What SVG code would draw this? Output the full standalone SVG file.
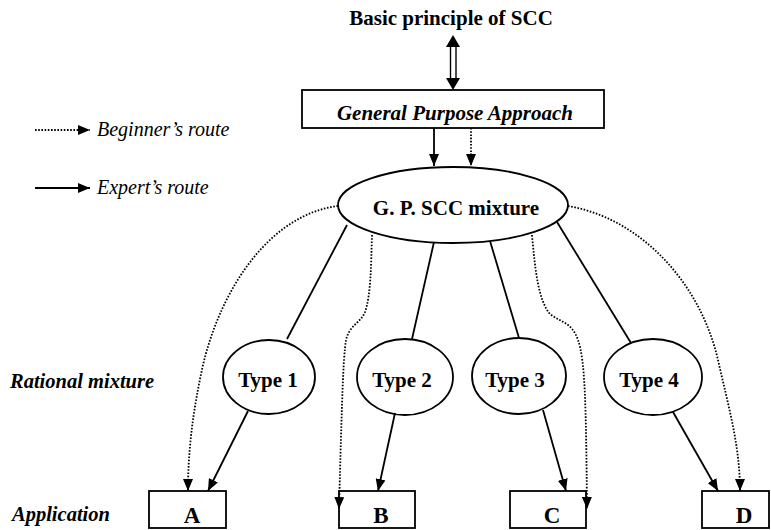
<svg xmlns="http://www.w3.org/2000/svg" width="771" height="530" viewBox="0 0 771 530">
  <style>
    .bg { fill: #ffffff; }
    .shape { fill: #ffffff; stroke: #000000; stroke-width: 1.8; }
    .solid { fill: none; stroke: #000000; stroke-width: 1.8; }
    .dotted { fill: none; stroke: #000000; stroke-width: 1.8; stroke-dasharray: 1.6 1.6; }
    .t { font-family: "Liberation Serif", "Times New Roman", serif; fill: #000000; }
    .b { font-weight: bold; }
    .i { font-style: italic; }
  </style>
  <defs>
    <marker id="head" viewBox="0 0 12 10" refX="12" refY="5" markerWidth="12" markerHeight="10" markerUnits="userSpaceOnUse" orient="auto">
      <path d="M0,0 L12,5 L0,10 Z" fill="#000000"/>
    </marker>
  </defs>

  <rect class="bg" x="0" y="0" width="771" height="530"/>

  <!-- title and double-headed link to the approach box -->
  <g id="title">
    <text class="t b" x="451" y="25" font-size="21" text-anchor="middle">Basic principle of SCC</text>
  </g>
  <g id="double-arrow">
    <line x1="450.5" y1="46" x2="450.5" y2="79" stroke="#000" stroke-width="1.4"/>
    <line x1="456" y1="46" x2="456" y2="79" stroke="#000" stroke-width="1.4"/>
    <path d="M453,35 L460,47 L446,47 Z" fill="#000"/>
    <path d="M453,90 L460,78 L446,78 Z" fill="#000"/>
  </g>

  <!-- legend -->
  <g id="legend">
    <line class="dotted" x1="35" y1="130" x2="90" y2="130" marker-end="url(#head)"/>
    <text class="t i" x="97" y="136" font-size="20">Beginner’s route</text>
    <line class="solid" x1="35" y1="188" x2="90" y2="188" marker-end="url(#head)"/>
    <text class="t i" x="97" y="194" font-size="20">Expert’s route</text>
  </g>

  <!-- row labels -->
  <g id="row-labels">
    <text class="t b i" x="10" y="388" font-size="20.5">Rational mixture</text>
    <text class="t b i" x="12" y="521" font-size="20.5">Application</text>
  </g>

  <!-- nodes -->
  <g id="gpa">
    <rect class="shape" x="302" y="90" width="302" height="38"/>
    <text class="t b i" x="455" y="120" font-size="21" text-anchor="middle">General Purpose Approach</text>
  </g>
  <g id="gp-mixture">
    <ellipse class="shape" cx="453" cy="205" rx="115" ry="38"/>
    <text class="t b" x="456" y="215" font-size="21" text-anchor="middle">G. P. SCC mixture</text>
  </g>
  <g id="type1">
    <ellipse class="shape" cx="269" cy="377" rx="46" ry="37"/>
    <text class="t b" x="268" y="387" font-size="21" text-anchor="middle">Type 1</text>
  </g>
  <g id="type2">
    <ellipse class="shape" cx="405" cy="377" rx="48" ry="38"/>
    <text class="t b" x="402" y="387" font-size="21" text-anchor="middle">Type 2</text>
  </g>
  <g id="type3">
    <ellipse class="shape" cx="519" cy="376" rx="47" ry="38"/>
    <text class="t b" x="515" y="387" font-size="21" text-anchor="middle">Type 3</text>
  </g>
  <g id="type4">
    <ellipse class="shape" cx="653" cy="377" rx="49" ry="38"/>
    <text class="t b" x="649" y="387" font-size="21" text-anchor="middle">Type 4</text>
  </g>
  <g id="app-a">
    <rect class="shape" x="149" y="491" width="77" height="37"/>
    <text class="t b" x="192" y="523" font-size="23" text-anchor="middle">A</text>
  </g>
  <g id="app-b">
    <rect class="shape" x="339" y="491" width="76" height="37"/>
    <text class="t b" x="381" y="523" font-size="23" text-anchor="middle">B</text>
  </g>
  <g id="app-c">
    <rect class="shape" x="510" y="491" width="76" height="37"/>
    <text class="t b" x="552" y="523" font-size="23" text-anchor="middle">C</text>
  </g>
  <g id="app-d">
    <rect class="shape" x="702" y="491" width="67" height="37"/>
    <text class="t b" x="744" y="523" font-size="23" text-anchor="middle">D</text>
  </g>

  <!-- connectors -->
  <g id="connectors">
    <!-- approach box to general mixture -->
    <line class="solid" x1="434" y1="128" x2="434" y2="166" marker-end="url(#head)"/>
    <line class="dotted" x1="471" y1="128" x2="471" y2="166" marker-end="url(#head)"/>

    <!-- expert routes: mixture to types -->
    <line class="solid" x1="347" y1="225" x2="287" y2="339"/>
    <line class="solid" x1="434" y1="242" x2="412" y2="339"/>
    <line class="solid" x1="490" y1="241" x2="519" y2="338"/>
    <line class="solid" x1="557" y1="222" x2="631" y2="343"/>

    <!-- expert routes: types to applications -->
    <line class="solid" x1="248" y1="411" x2="208" y2="491" marker-end="url(#head)"/>
    <line class="solid" x1="395" y1="413" x2="378" y2="491" marker-end="url(#head)"/>
    <line class="solid" x1="543" y1="410" x2="566" y2="491" marker-end="url(#head)"/>
    <line class="solid" x1="673" y1="412" x2="718" y2="491" marker-end="url(#head)"/>

    <!-- beginner routes: mixture straight to applications -->
    <path class="dotted" d="M338,206 C272,214 222,285 203,365 C193,410 188,450 188,491" marker-end="url(#head)"/>
    <path class="dotted" d="M372,235 C371,265 371,295 365,312 C360,324 350,324 346,340 C343,360 342,400 339,509" marker-end="url(#head)"/>
    <path class="dotted" d="M532,235 C535,268 538,300 550,314 C560,322 572,322 578,340 C585,360 586,400 587,509" marker-end="url(#head)"/>
    <path class="dotted" d="M568,206 C640,218 700,282 718,360 C728,405 740,445 740,491" marker-end="url(#head)"/>
  </g>
</svg>
